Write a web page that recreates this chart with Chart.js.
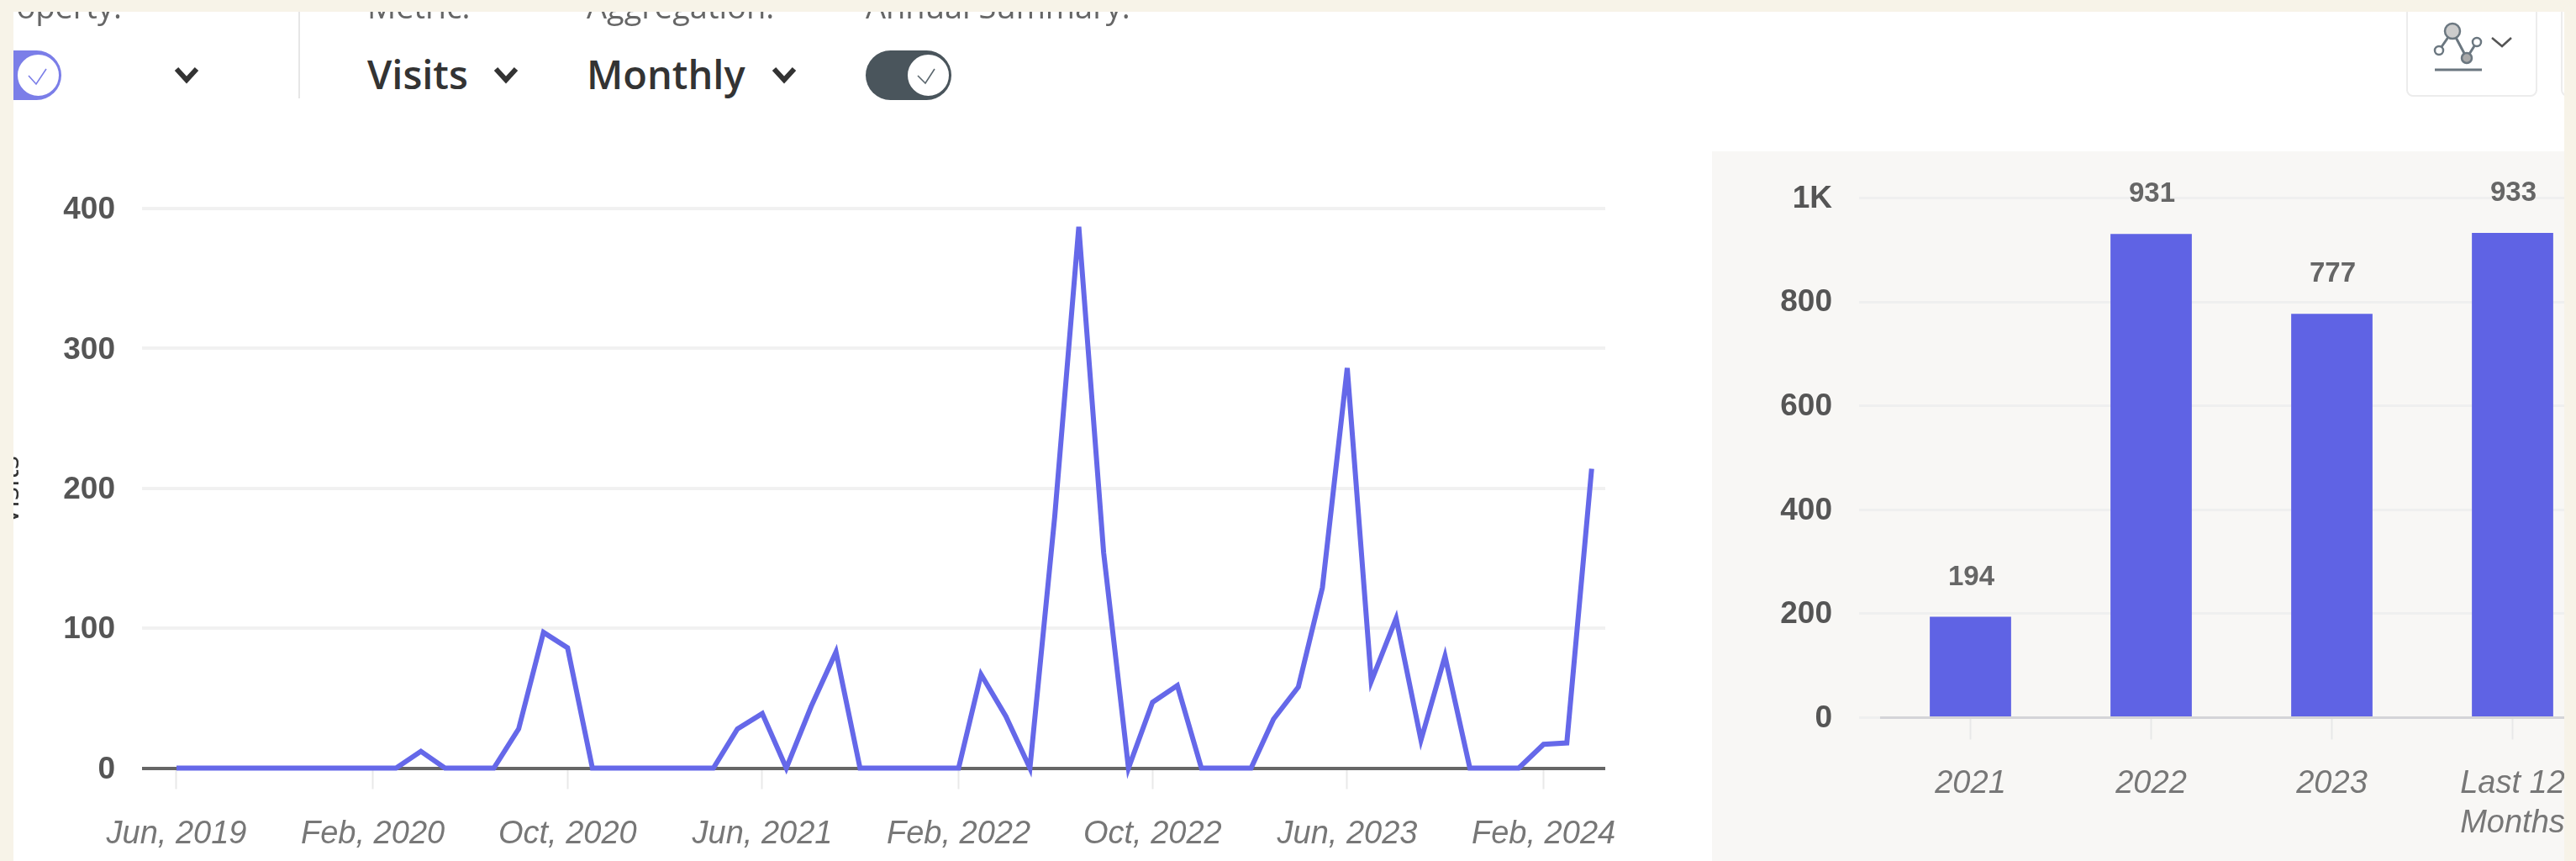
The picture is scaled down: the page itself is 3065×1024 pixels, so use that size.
<!DOCTYPE html>
<html>
<head>
<meta charset="utf-8">
<script src="https://cdn.jsdelivr.net/npm/chart.js@4/dist/chart.umd.min.js"></script>
<style>
html,body{margin:0;padding:0;width:3065px;height:1024px;overflow:hidden;background:#f7f3e8}
#frame{position:absolute;left:0;top:0;width:3065px;height:1024px;background:#fff;clip-path:inset(14px 14px 0 16px);filter:blur(.7px)}
#frame>*{position:absolute}
.lab{font:400 38px/40px "Open Sans";color:#666;white-space:nowrap;top:-13px}
.sel{font:600 47px/48px "Open Sans";color:#333;white-space:nowrap;top:64px}
#panel{left:2037px;top:180px;width:1014px;height:844px;background:#f8f7f5;overflow:hidden}
#panel canvas{position:absolute;left:0;top:0}
#lineC{left:0;top:0}
.pill{top:60px;height:59px;border-radius:30px}
.knob{top:63px;width:53px;height:53px;border-radius:50%;background:#fff;box-sizing:border-box}
#ytitle{left:-36px;top:566px;font:400 34px/34px "Open Sans";color:#333;transform:rotate(-90deg);white-space:nowrap;width:90px;text-align:center}
</style>
</head>
<body>
<div id="frame">
  <div class="lab" style="left:-19px">Property:</div>
  <div class="lab" style="left:437px">Metric:</div>
  <div class="lab" style="left:698px">Aggregation:</div>
  <div class="lab" style="left:1030px">Annual Summary:</div>
  <div style="left:355px;top:14px;width:2px;height:103px;background:#e6e6e6"></div>
  <div class="pill" style="left:-20px;width:93px;background:#7b7ee8"></div>
  <div class="knob" style="left:19px;border:2px solid #7b7ee8"></div>
  <div class="sel" style="left:437px">Visits</div>
  <div class="sel" style="left:698px">Monthly</div>
  <div class="pill" style="left:1030px;width:102px;background:#4a555c"></div>
  <div class="knob" style="left:1078px;border:2px solid #4a555c"></div>
  <svg style="left:0;top:0" width="1300" height="130" fill="none">
    <path d="M34 90l9 10 12-18" stroke="#7b7ee8" stroke-width="1.6"/>
    <path d="M1092 90l9 9 11-17" stroke="#5a666d" stroke-width="1.6"/>
    <path d="M210 82l12 13 12-13" stroke="#333" stroke-width="6"/>
    <path d="M590 82l12 13 12-13" stroke="#333" stroke-width="6"/>
    <path d="M921 82l12 13 12-13" stroke="#333" stroke-width="6"/>
  </svg>
  <div style="left:2863px;top:-20px;width:156px;height:135px;border:2px solid #ececec;border-radius:8px;box-sizing:border-box"></div>
  <div style="left:3047px;top:-20px;width:20px;height:135px;border:2px solid #ececec;border-radius:8px;box-sizing:border-box"></div>
  <svg style="left:2880px;top:14px" width="130" height="80" fill="none">
    <path d="M22 46L38 23M38 23L55 55M55 55L67 36" stroke="#6b7780" stroke-width="3"/>
    <circle cx="38" cy="23" r="9" fill="#ccc" stroke="#6b7780" stroke-width="2.5"/>
    <circle cx="22" cy="46" r="5" fill="#fff" stroke="#6b7780" stroke-width="2.5"/>
    <circle cx="55" cy="55" r="6" fill="#aaa" stroke="#6b7780" stroke-width="2.5"/>
    <circle cx="67" cy="36" r="5" fill="#fff" stroke="#6b7780" stroke-width="2.5"/>
    <path d="M17 69H73" stroke="#6b7780" stroke-width="3"/>
    <path d="M85 31l12 10 11-10" stroke="#555" stroke-width="2.5"/>
  </svg>
  <div id="ytitle">Visits</div>
  <canvas id="lineC" width="2000" height="1024" style="width:2000px;height:1024px"></canvas>
  <div id="panel"><canvas id="barC" width="1100" height="844" style="width:1100px;height:844px"></canvas></div>
</div>
<script>
const months = ["2019-06","2019-07","2019-08","2019-09","2019-10","2019-11","2019-12","2020-01","2020-02","2020-03","2020-04","2020-05",
"2020-06","2020-07","2020-08","2020-09","2020-10","2020-11","2020-12","2021-01","2021-02","2021-03","2021-04","2021-05",
"2021-06","2021-07","2021-08","2021-09","2021-10","2021-11","2021-12","2022-01","2022-02","2022-03","2022-04","2022-05",
"2022-06","2022-07","2022-08","2022-09","2022-10","2022-11","2022-12","2023-01","2023-02","2023-03","2023-04","2023-05",
"2023-06","2023-07","2023-08","2023-09","2023-10","2023-11","2023-12","2024-01","2024-02","2024-03","2024-04"];
const visits = [0,0,0,0,0,0,0,0,0,0,12,0,
0,0,28,97,86,0,0,0,0,0,0,28,
39,0,44,83,0,0,0,0,0,67,37,0,
180,387,154,0,47,59,0,0,0,35,58,129,
286,62,107,20,80,0,0,0,17,18,214];
const lineTickMonths = ["2019-06","2020-02","2020-10","2021-06","2022-02","2022-10","2023-06","2024-02"];
const lineTickLabels = ["Jun, 2019","Feb, 2020","Oct, 2020","Jun, 2021","Feb, 2022","Oct, 2022","Jun, 2023","Feb, 2024"];
const yTicksLine = [0,100,200,300,400];
const barCategories = ["2021","2022","2023",["Last 12","Months"]];
const barValues = [194,931,777,933];
const yTicksBar = [0,200,400,600,800,1000];

const day = m => Date.parse(m + "-01T00:00:00Z") / 864e5;
const pts = months.map((m,i) => ({x: day(m), y: visits[i]}));
const numFont = {family:'"Liberation Sans"', size:37, weight:'bold'};
const catFont = {family:'"Liberation Sans"', size:38, style:'italic'};
Chart.defaults.devicePixelRatio = 1;

new Chart(document.getElementById('lineC'), {
  type:'line',
  data:{labels:months, datasets:[{data:pts, borderColor:'#6568e9', borderWidth:6, pointRadius:0, tension:0, borderJoinStyle:'miter', clip:false}]},
  options:{
    responsive:false, animation:false,
    layout:{padding:{top:248, right:90, left:0, bottom:0}},
    plugins:{legend:{display:false}, tooltip:{enabled:false}},
    scales:{
      x:{type:'linear',
         min:day(months[0])-43, max:day(months[months.length-1])+17,
         afterBuildTicks:s=>{s.ticks=lineTickMonths.map(m=>({value:day(m)}));},
         afterFit:s=>{s.height=110.5;},
         border:{display:false},
         grid:{drawOnChartArea:false, drawTicks:true, tickLength:25, tickColor:'#e9e9e9', tickWidth:2},
         ticks:{autoSkip:false, maxRotation:0, padding:31, color:'#777', font:catFont,
                callback:v=>lineTickLabels[lineTickMonths.findIndex(m=>day(m)===v)]}
      },
      y:{min:0, max:400,
         afterBuildTicks:s=>{s.ticks=yTicksLine.map(v=>({value:v}));},
         afterFit:s=>{s.width=169;},
         border:{display:false},
         grid:{drawTicks:false, color:c=>c.tick.value===0?'#666':'#f1f1f1', lineWidth:4},
         ticks:{padding:32, labelOffset:2, color:'#555', font:numFont}
      }
    }
  }
});

const barLabels = {
  id:'barLabels',
  afterDatasetsDraw(chart){
    const c = chart.ctx, meta = chart.getDatasetMeta(0);
    c.save();
    c.font = 'bold 33px "Liberation Sans"';
    c.fillStyle = '#666';
    c.textAlign = 'center';
    c.textBaseline = 'middle';
    meta.data.forEach((b,i)=>c.fillText(barValues[i], b.x+1, b.y-47));
    c.restore();
  }
};
new Chart(document.getElementById('barC'), {
  type:'bar',
  data:{labels:barCategories, datasets:[{data:barValues, backgroundColor:'#5f63e4', barPercentage:.45, categoryPercentage:1}]},
  plugins:[barLabels],
  options:{
    responsive:false, animation:false,
    layout:{padding:{top:55.5, right:40, left:0, bottom:0}},
    plugins:{legend:{display:false}, tooltip:{enabled:false}},
    scales:{
      x:{
         afterFit:s=>{s.height=170.5;},
         border:{display:false},
         grid:{drawOnChartArea:false, offset:false, drawTicks:true, tickLength:26, tickColor:'#e8e8e8', tickWidth:2},
         ticks:{autoSkip:false, maxRotation:0, padding:29, color:'#777', font:{...catFont, lineHeight:1.25}}
      },
      y:{min:0, max:1000,
         afterBuildTicks:s=>{s.ticks=yTicksBar.map(v=>({value:v}));},
         afterFit:s=>{s.width=200;},
         border:{display:false},
         grid:{tickLength:25, tickColor:'#efefef', color:c=>c.tick.value===0?'#d4d4d8':'#efefef', lineWidth:3},
         ticks:{padding:32, labelOffset:1, color:'#555', font:numFont, callback:v=>v===1000?'1K':v}
      }
    }
  }
});
</script>
</body>
</html>
